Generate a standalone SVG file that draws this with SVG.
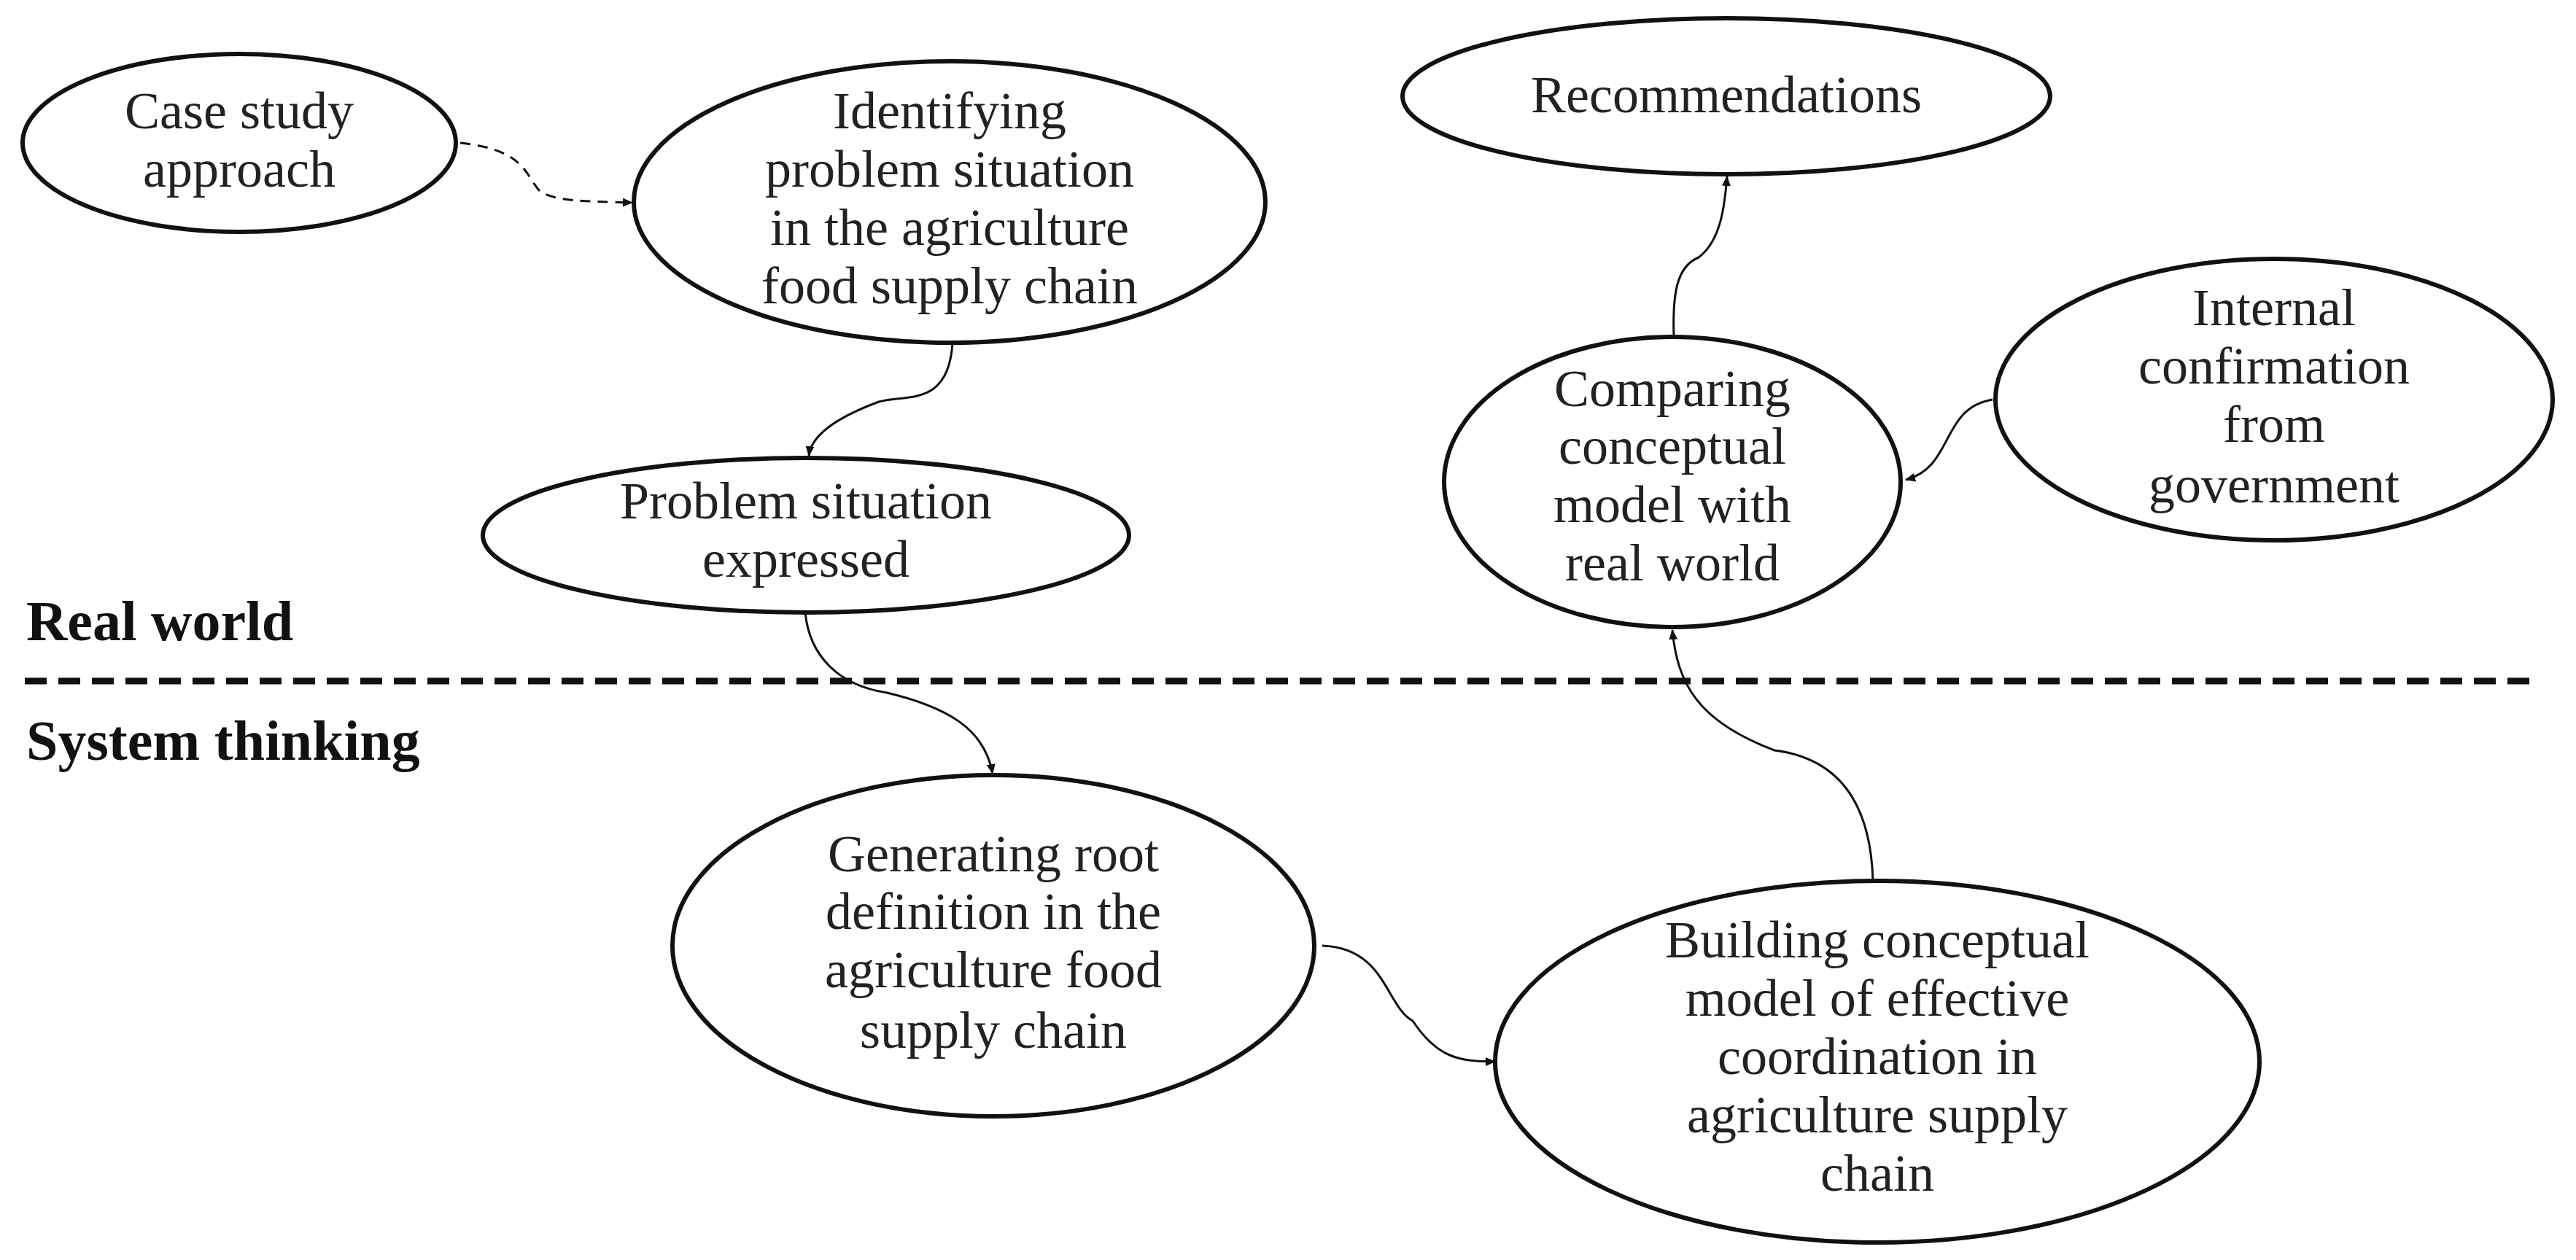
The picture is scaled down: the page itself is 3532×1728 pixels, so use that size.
<svg xmlns="http://www.w3.org/2000/svg" width="3532" height="1728" viewBox="0 0 3532 1728">
<style>
.n ellipse{fill:#fff;stroke:#111;stroke-width:6}
.n text{font-family:"Liberation Serif",serif;font-size:72px;fill:#222;text-anchor:middle}
.lbl{font-family:"Liberation Serif",serif;font-size:78px;font-weight:bold;fill:#111}
.c path{fill:none;stroke:#111;stroke-width:3;marker-end:url(#ah)}
</style>
<defs><marker id="ah" markerWidth="14" markerHeight="12" refX="13" refY="6" orient="auto" markerUnits="userSpaceOnUse" viewBox="0 0 14 12"><path d="M0,0 L14,6 L0,12 Z" fill="#111"/></marker></defs>
<rect width="3532" height="1728" fill="#fff"/>
<line x1="34" y1="934" x2="3480" y2="934" stroke="#111" stroke-width="9" stroke-dasharray="30,16"/>
<text class="lbl" x="36" y="878">Real world</text>
<text class="lbl" x="36" y="1042">System thinking</text>
<g class="c">
<path d="M631,196 C720,205 720,240 740,262 C760,276 800,276 867,278" stroke-dasharray="14,10" stroke-width="4"/>
<path d="M1306,471 C1300,560 1240,540 1205,551 C1140,575 1112,600 1109,625"/>
<path d="M1104,840 C1110,900 1150,940 1216,950 C1300,970 1350,1000 1361,1061"/>
<path d="M1813,1297 C1900,1300 1900,1380 1937,1400 C1970,1450 2000,1456 2050,1456"/>
<path d="M2568,1208 C2565,1100 2520,1040 2433,1029 C2330,990 2300,940 2293,864"/>
<path d="M2295,460 C2293,400 2300,365 2329,353 C2360,330 2365,280 2368,242"/>
<path d="M2732,548 C2660,560 2680,640 2613,658"/>
</g>
<g id="case" class="n"><ellipse cx="328" cy="196" rx="297" ry="122"/><text x="328" y="176">Case study</text><text x="328" y="256">approach</text></g>
<g id="identify" class="n"><ellipse cx="1302" cy="277" rx="433" ry="193"/><text x="1302" y="176">Identifying</text><text x="1302" y="256">problem situation</text><text x="1302" y="336">in the agriculture</text><text x="1302" y="416">food supply chain</text></g>
<g id="expressed" class="n"><ellipse cx="1105" cy="734" rx="443" ry="106"/><text x="1105" y="711">Problem situation</text><text x="1105" y="791">expressed</text></g>
<g id="recommend" class="n"><ellipse cx="2367" cy="132" rx="444" ry="107"/><text x="2367" y="154">Recommendations</text></g>
<g id="compare" class="n"><ellipse cx="2293" cy="661" rx="313" ry="199"/><text x="2293" y="557">Comparing</text><text x="2293" y="636">conceptual</text><text x="2293" y="716">model with</text><text x="2293" y="796">real world</text></g>
<g id="internal" class="n"><ellipse cx="3118" cy="548" rx="382" ry="193"/><text x="3118" y="446">Internal</text><text x="3118" y="526">confirmation</text><text x="3118" y="606">from</text><text x="3118" y="689">government</text></g>
<g id="root" class="n"><ellipse cx="1362" cy="1297" rx="440" ry="234"/><text x="1362" y="1195">Generating root</text><text x="1362" y="1274">definition in the</text><text x="1362" y="1354">agriculture food</text><text x="1362" y="1437">supply chain</text></g>
<g id="build" class="n"><ellipse cx="2574" cy="1456" rx="524" ry="248"/><text x="2574" y="1313">Building conceptual</text><text x="2574" y="1393">model of effective</text><text x="2574" y="1473">coordination in</text><text x="2574" y="1553">agriculture supply</text><text x="2574" y="1633">chain</text></g>
</svg>
